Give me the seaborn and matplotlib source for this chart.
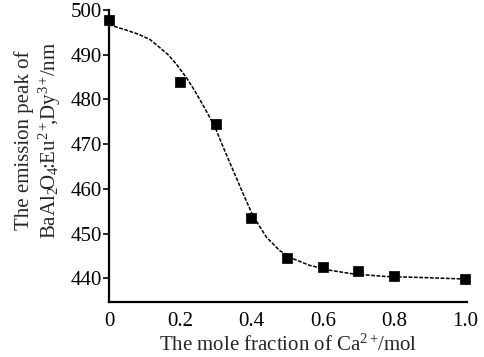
import matplotlib
matplotlib.use("Agg")
import matplotlib.pyplot as plt
import seaborn as sns
import pandas as pd

# measured data points
x_frac = [0.0, 0.2, 0.3, 0.4, 0.5, 0.6, 0.7, 0.8, 1.0]
peak_nm = [497.8, 484.0, 474.6, 453.4, 444.6, 442.5, 441.6, 440.6, 439.9]

# fitted curve
fit_x = [0.0, 0.045, 0.082, 0.115, 0.138, 0.166, 0.19, 0.218, 0.241, 0.269,
         0.297, 0.325, 0.353, 0.381, 0.404, 0.442, 0.479, 0.516, 0.563,
         0.62, 0.684, 0.778, 0.871, 0.995]
fit_y = [496.7, 495.6, 494.6, 493.4, 491.9, 490.0, 487.8, 484.8, 481.9, 478.0,
         473.9, 468.5, 463.3, 458.1, 454.0, 449.2, 446.2, 444.4, 442.9,
         441.8, 441.0, 440.4, 440.2, 439.85]

sns.set_theme(style="ticks")
plt.rcParams['font.family'] = ['Liberation Serif', 'DejaVu Serif']
plt.rcParams['mathtext.fontset'] = 'custom'
plt.rcParams['mathtext.rm'] = 'Liberation Serif'
plt.rcParams['mathtext.it'] = 'Liberation Serif:italic'

fig = plt.figure(figsize=(4.85, 3.57), dpi=100)
ax = fig.add_axes([0.2247, 0.154, 0.7383, 0.818])

df_pts = pd.DataFrame({"x": x_frac, "y": peak_nm})
df_fit = pd.DataFrame({"x": fit_x, "y": fit_y})

sns.lineplot(data=df_fit, x="x", y="y", ax=ax, color="black", lw=1.1,
             linestyle=(0, (2.5, 1.0)), sort=True)
sns.scatterplot(data=df_pts, x="x", y="y", ax=ax, marker="s", s=42,
                color="black", edgecolor="black", zorder=5, clip_on=False)

ax.set_xlim(0, 1.005)
ax.set_ylim(434.7, 500)
ax.set_xticks([0, 0.2, 0.4, 0.6, 0.8, 1.0])
ax.set_xticklabels(["0", "0.2", "0.4", "0.6", "0.8", "1.0"])
ax.set_yticks([440, 450, 460, 470, 480, 490, 500])
ax.tick_params(axis='both', labelsize=15, colors='black')
ax.tick_params(axis='y', direction='out', length=4, width=1.2, pad=1)
ax.tick_params(axis='x', length=0, pad=7)
for s in ['top', 'right']:
    ax.spines[s].set_visible(False)
for s in ['left', 'bottom']:
    ax.spines[s].set_linewidth(1.6)
    ax.spines[s].set_color('black')

ax.set_xlabel("The mole fraction of Ca$^{2+}\\!$/mol", fontsize=15, labelpad=3)
ax.set_ylabel("The emission peak of\n"
              "BaAl$_2\\!$O$_4\\!$:Eu$^{2+}\\!\\!$,Dy$^{3+}\\!$/nm",
              fontsize=15, linespacing=1.15)
ax.yaxis.set_label_coords(-0.128, 0.555)

fig.savefig("out.png", dpi=100)
